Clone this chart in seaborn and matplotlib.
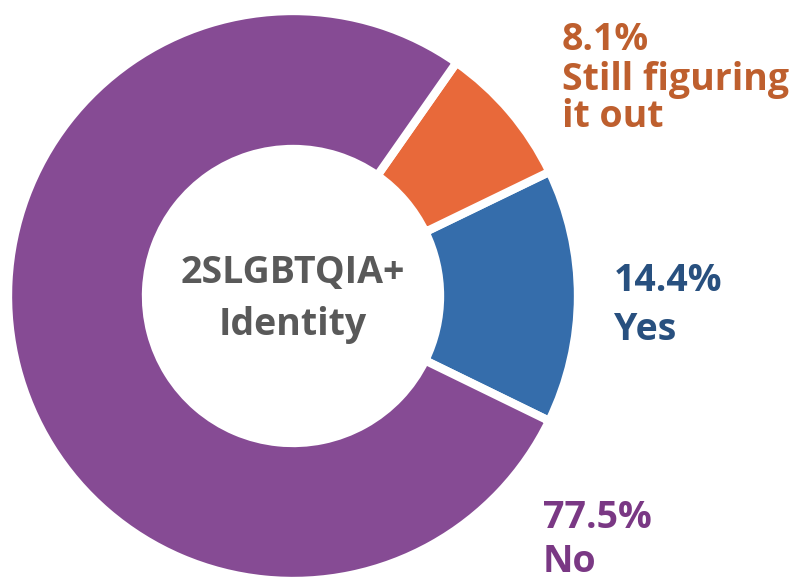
import matplotlib.pyplot as plt
import seaborn as sns

# donut data
labels = ['Yes', 'Still figuring\nit out', 'No']
values = [14.4, 8.1, 77.5]
colors = ['#356DAB', '#E8693A', '#864B94']
text_colors = ['#28507F', '#BE5F2E', '#7A3884']
center_title = ['2SLGBTQIA+', 'Identity']

sns.set_theme(style='white')
plt.rcParams['font.family'] = ['Open Sans', 'DejaVu Sans']

W, H = 792, 582
fig = plt.figure(figsize=(W / 100, H / 100), dpi=100)
ax = fig.add_axes([0, 0, 1, 1])
ax.axis('off')

cx, cy, r = 293, H - 296, 285
ax.pie(values, colors=colors, startangle=-26, counterclock=True,
       center=(cx, cy), radius=r,
       wedgeprops=dict(width=138, edgecolor='white', linewidth=6))
ax.set_xlim(0, W)
ax.set_ylim(0, H)
ax.set_aspect('equal')

# label anchor (left x) and baselines of each line, in pixels from top
layout = {
    'Yes': (614, [291, 340]),
    'Still figuring\nit out': (562, [50, 90, 127]),
    'No': (543, [528, 572]),
}
for lab, val, tc in zip(labels, values, text_colors):
    x, baselines = layout[lab]
    lines = [f'{val}%'] + lab.split('\n')
    for line, by in zip(lines, baselines):
        ax.text(x, H - by, line, color=tc, fontsize=27, fontweight='bold',
                ha='left', va='baseline')

for line, by in zip(center_title, [283, 335]):
    ax.text(cx, H - by, line, color='#595959', fontsize=27, fontweight='bold',
            ha='center', va='baseline')

fig.savefig('out.png', dpi=100)
